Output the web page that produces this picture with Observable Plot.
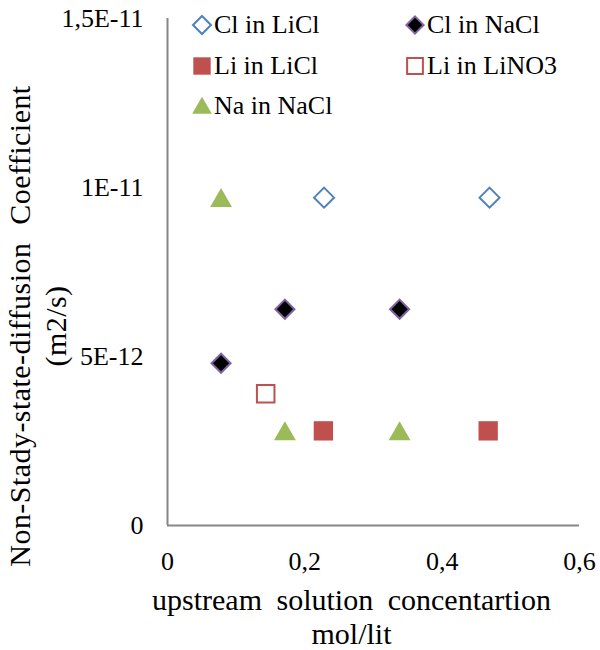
<!DOCTYPE html>
<html>
<head>
<meta charset="utf-8">
<script src="https://cdn.jsdelivr.net/npm/d3@7"></script>
<script src="https://cdn.jsdelivr.net/npm/@observablehq/plot@0.6"></script>
<style>
  html, body { margin: 0; padding: 0; background: #fff; }
  #wrap { position: relative; width: 600px; height: 650px; font-family: "Liberation Serif", Tinos, "Times New Roman", "DejaVu Serif", serif; }
  #wrap svg, #wrap svg text { font-family: "Liberation Serif", Tinos, "Times New Roman", "DejaVu Serif", serif !important; }
  #legend { position: absolute; left: 190px; top: 6px; font-size: 26px; color: #000; }
  .item { position: absolute; display: flex; align-items: center; white-space: nowrap; height: 38px; }
  .item svg { margin-right: 0px; }
  svg g[aria-label="text"] { word-spacing: 7px; }
</style>
</head>
<body>
<div id="wrap"></div>
<script>
// ---- data ----
const seriesNames = ["Cl in LiCl", "Cl in NaCl", "Li in LiCl", "Li in LiNO3", "Na in NaCl"];
const clLiClX = [0.228, 0.469];
const clLiClY = [9.7e-12, 9.7e-12];
const clNaClX = [0.078, 0.171, 0.338];
const clNaClY = [4.8e-12, 6.4e-12, 6.4e-12];
const liLiClX = [0.227, 0.467];
const liLiClY = [2.8e-12, 2.8e-12];
const liLiNO3X = [0.143];
const liLiNO3Y = [3.9e-12];
const naNaClX = [0.078, 0.171, 0.338];
const naNaClY = [9.7e-12, 2.8e-12, 2.8e-12];

const xTicks = [0, 0.2, 0.4, 0.6];
const xTickLabels = ["0", "0,2", "0,4", "0,6"];
const yTicks = [0, 5e-12, 1e-11, 1.5e-11];
const yTickLabels = ["0", "5E-12", "1E-11", "1,5E-11"];
const xTitle = "upstream solution concentartion\nmol/lit";
const yTitle = "Non-Stady-state-diffusion Coefficient\n(m2/s)";

// ---- styles per series ----
const styles = [
  {symbol: "diamond2", r: 9.0, fill: "#fff", stroke: "#4F81BD", strokeWidth: 2},
  {symbol: "diamond2", r: 8.6, fill: "#000", stroke: "#8064A2", strokeWidth: 2},
  {symbol: "square", r: 10.9, fill: "#C0504D", stroke: "none", strokeWidth: 0},
  {symbol: "square", r: 9.9, fill: "#fff", stroke: "#C0504D", strokeWidth: 2},
  {symbol: "triangle", r: 8.1, fill: "#9BBB59", stroke: "none", strokeWidth: 0, dy: 3}
];
const xs = [clLiClX, clNaClX, liLiClX, liLiNO3X, naNaClX];
const ys = [clLiClY, clNaClY, liLiClY, liLiNO3Y, naNaClY];
const series = xs.map((xArr, i) => xArr.map((x, j) => ({x, y: ys[i][j], s: seriesNames[i]})));

const gray = "#868686";
const serif = "'Liberation Serif', Tinos, 'Times New Roman', 'DejaVu Serif', serif";
const chart = Plot.plot({
  width: 600,
  height: 650,
  marginLeft: 167,
  marginRight: 21,
  marginTop: 18,
  marginBottom: 125,
  style: {fontFamily: serif, fontSize: "26px", color: "#000", background: "#fff"},
  x: {domain: [0, 0.6], ticks: xTicks, tickFormat: d => xTickLabels[xTicks.indexOf(d)], tickSize: 0, tickPadding: 26, label: null},
  y: {domain: [0, 1.5e-11], ticks: yTicks, tickFormat: d => yTickLabels[yTicks.indexOf(d)], tickSize: 0, tickPadding: 24, label: null},
  marks: [
    Plot.ruleX([0], {stroke: gray, strokeWidth: 2}),
    Plot.ruleY([0], {stroke: gray, strokeWidth: 2}),
    ...series.map((data, i) => Plot.dot(data, {x: "x", y: "y", ...styles[i]})),
    Plot.text([xTitle], {frameAnchor: "bottom", lineAnchor: "top", dy: 60, dx: -22, fontSize: 30, lineHeight: 1.15, fill: "#000"}),
    Plot.text([yTitle], {frameAnchor: "left", textAnchor: "middle", rotate: -90, lineAnchor: "top", dx: -167 + 3, dy: 54, fontSize: 30, lineHeight: 1.22, fill: "#000"})
  ]
});
// wider tracking on the vertical title, as in the reference
const textGroups = chart.querySelectorAll('g[aria-label="text"]');
if (textGroups.length > 1) {
  textGroups[1].style.letterSpacing = "0.45px";
  textGroups[1].style.wordSpacing = "10px";
}
const wrap = document.getElementById("wrap");
wrap.appendChild(chart);

// ---- legend ----
const legend = document.createElement("div");
legend.id = "legend";
const cols = [0, 213];
const rows = [0, 41, 81];
seriesNames.forEach((name, i) => {
  const st = styles[i];
  const item = document.createElement("div");
  item.className = "item";
  item.style.left = cols[i % 2] + "px";
  item.style.top = rows[Math.floor(i / 2)] + "px";
  const sym = {diamond2: d3.symbolDiamond2, square: d3.symbolSquare, triangle: d3.symbolTriangle}[st.symbol];
  const rr = st.r * 0.9;
  const path = d3.symbol(sym, Math.PI * rr * rr)();
  item.innerHTML = `<svg width="24" height="24" viewBox="-12 -12 24 24"><path d="${path}" transform="translate(0,${st.dy ? 2 : 0})" fill="${st.fill}" stroke="${st.stroke}" stroke-width="${st.strokeWidth}"/></svg><span>${name}</span>`;
  legend.appendChild(item);
});
wrap.appendChild(legend);
</script>
</body>
</html>
